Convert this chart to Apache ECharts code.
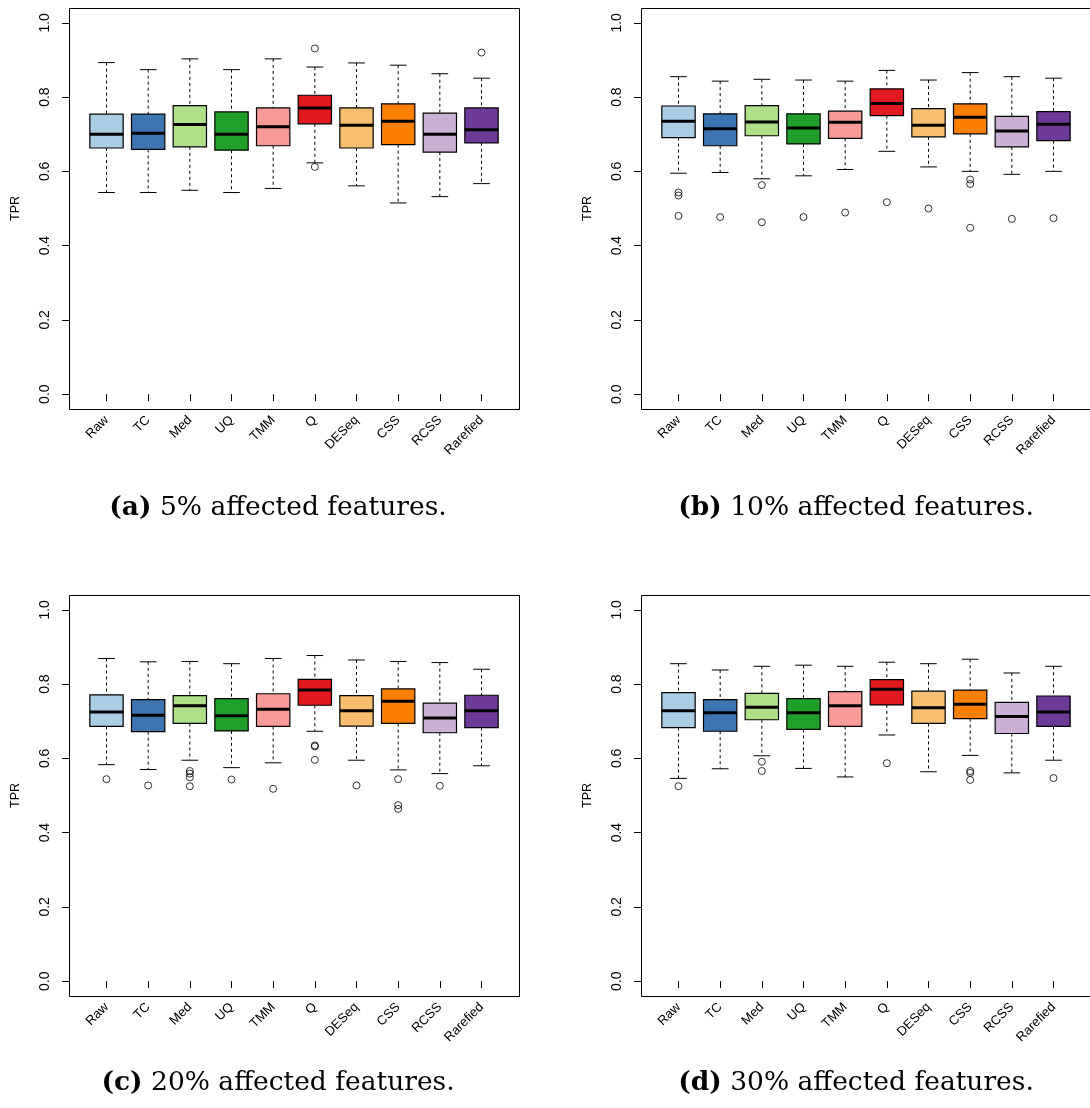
<!DOCTYPE html>
<html>
<head>
<meta charset="utf-8">
<script src="https://cdn.jsdelivr.net/npm/echarts@6/dist/echarts.min.js"></script>
<style>
html,body{margin:0;padding:0;background:#fff;}
#chart{width:1090px;height:1108px;}
</style>
</head>
<body>
<div id="chart"></div>
<script>
// ---------------- data ----------------
const categories = ['Raw','TC','Med','UQ','TMM','Q','DESeq','CSS','RCSS','Rarefied'];
const colors = ['#A9CDE3','#3D75B3','#AEE088','#209F2B','#F89A98','#E01A1F','#F8BF70','#FB8000','#CAB0D5','#6E3A98'];
const yTicks = [0, 0.2, 0.4, 0.6, 0.8, 1.0];

// each row: [lower whisker, Q1, median, Q3, upper whisker]
const boxes5 = [
  [0.543,0.663,0.700,0.754,0.893],
  [0.543,0.659,0.703,0.754,0.874],
  [0.549,0.666,0.726,0.777,0.903],
  [0.543,0.657,0.700,0.760,0.874],
  [0.554,0.669,0.720,0.771,0.903],
  [0.623,0.728,0.771,0.805,0.881],
  [0.561,0.663,0.724,0.771,0.892],
  [0.515,0.672,0.735,0.782,0.886],
  [0.532,0.652,0.700,0.757,0.863],
  [0.567,0.677,0.712,0.771,0.851]
];
const outliers5 = [[5,0.931],[5,0.612],[9,0.920]];

const boxes10 = [
  [0.595,0.691,0.735,0.776,0.855],
  [0.597,0.669,0.715,0.755,0.843],
  [0.580,0.696,0.733,0.777,0.848],
  [0.588,0.674,0.717,0.755,0.846],
  [0.605,0.689,0.732,0.762,0.843],
  [0.654,0.750,0.783,0.822,0.872],
  [0.612,0.693,0.724,0.769,0.846],
  [0.600,0.701,0.746,0.782,0.866],
  [0.592,0.666,0.709,0.748,0.855],
  [0.600,0.683,0.727,0.761,0.851]
];
const outliers10 = [[0,0.543],[0,0.535],[0,0.480],[1,0.477],[2,0.563],[2,0.463],[3,0.477],[4,0.489],
  [5,0.517],[6,0.500],[7,0.578],[7,0.566],[7,0.448],[8,0.472],[9,0.474]];

const boxes20 = [
  [0.583,0.686,0.725,0.771,0.869],
  [0.570,0.672,0.716,0.758,0.860],
  [0.595,0.694,0.742,0.769,0.861],
  [0.575,0.674,0.715,0.761,0.855],
  [0.588,0.686,0.732,0.774,0.869],
  [0.673,0.743,0.784,0.813,0.877],
  [0.595,0.687,0.728,0.769,0.865],
  [0.569,0.694,0.754,0.787,0.861],
  [0.559,0.669,0.709,0.749,0.858],
  [0.580,0.683,0.728,0.770,0.840]
];
const outliers20 = [[0,0.544],[1,0.527],[2,0.566],[2,0.559],[2,0.549],[2,0.525],[3,0.543],[4,0.518],
  [5,0.635],[5,0.632],[5,0.596],[6,0.527],[7,0.544],[7,0.474],[7,0.464],[8,0.526]];

const boxes30 = [
  [0.546,0.683,0.728,0.777,0.855],
  [0.572,0.673,0.723,0.758,0.838],
  [0.607,0.704,0.738,0.775,0.848],
  [0.573,0.678,0.723,0.761,0.851],
  [0.550,0.686,0.742,0.780,0.848],
  [0.663,0.744,0.786,0.812,0.859],
  [0.564,0.694,0.736,0.781,0.855],
  [0.608,0.707,0.746,0.784,0.867],
  [0.561,0.667,0.713,0.751,0.830],
  [0.595,0.686,0.725,0.768,0.848]
];
const outliers30 = [[0,0.525],[2,0.591],[2,0.566],[5,0.587],[7,0.566],[7,0.561],[7,0.542],[9,0.547]];

const captionLabels = ['(a)','(b)','(c)','(d)'];
const captionTexts = ['5% affected features.','10% affected features.','20% affected features.','30% affected features.'];

// ---------------- layout ----------------
const panels = [
  {boxes: boxes5,  outs: outliers5,  fx: 69,  fy: 8},
  {boxes: boxes10, outs: outliers10, fx: 641, fy: 8},
  {boxes: boxes20, outs: outliers20, fx: 69,  fy: 595},
  {boxes: boxes30, outs: outliers30, fx: 641, fy: 595}
];
const frameW = 450, frameH = 401;
const unitX = frameW / 10.8;          // R: xlim 0.5..10.5 extended 4%
const unitY = frameH / 1.08;          // R: ylim 0..1 extended 4%
const xPad = 0.4 * unitX, yPad = 0.04 * unitY;
const captionPos = [[278, 508], [856, 508], [278, 1083], [856, 1083]];

const sansFont = 'Liberation Sans';
const serifFont = 'DejaVu Serif';

function renderBox(params, api) {
  const i = api.value(0);
  const lo = api.value(1), q1 = api.value(2), md = api.value(3), q3 = api.value(4), hi = api.value(5);
  const bw = api.size([1, 0])[0] * 0.8;
  const x = api.coord([i, md])[0];
  const y = v => api.coord([i, v])[1];
  const dash = {stroke: '#000', lineWidth: 1, lineDash: [3, 3]};
  const solid = {stroke: '#000', lineWidth: 1};
  return {
    type: 'group',
    children: [
      {type: 'line', shape: {x1: x, y1: y(hi), x2: x, y2: y(q3)}, style: dash},
      {type: 'line', shape: {x1: x, y1: y(q1), x2: x, y2: y(lo)}, style: dash},
      {type: 'line', shape: {x1: x - bw / 4, y1: y(hi), x2: x + bw / 4, y2: y(hi)}, style: solid},
      {type: 'line', shape: {x1: x - bw / 4, y1: y(lo), x2: x + bw / 4, y2: y(lo)}, style: solid},
      {type: 'rect', shape: {x: x - bw / 2, y: y(q3), width: bw, height: y(q1) - y(q3)},
        style: {fill: colors[params.dataIndex], stroke: '#000', lineWidth: 1.2}},
      {type: 'line', shape: {x1: x - bw / 2, y1: y(md), x2: x + bw / 2, y2: y(md)},
        style: {stroke: '#000', lineWidth: 3}}
    ]
  };
}

const grid = [], xAxis = [], yAxis = [], series = [], graphic = [];
panels.forEach((p, k) => {
  grid.push({
    left: p.fx + xPad, top: p.fy + yPad,
    width: frameW - 2 * xPad, height: frameH - 2 * yPad
  });
  xAxis.push({
    type: 'category', gridIndex: k, data: categories,
    offset: yPad,
    axisLine: {show: false},
    axisTick: {show: true, alignWithLabel: true, length: 7, lineStyle: {color: '#000', width: 1}},
    axisLabel: {interval: 0, rotate: 45, margin: 9, color: '#000', fontSize: 13, fontFamily: sansFont},
    splitLine: {show: false}
  });
  yAxis.push({
    type: 'value', gridIndex: k, min: 0, max: 1, interval: 0.2,
    offset: xPad,
    axisLine: {show: true, lineStyle: {color: '#000', width: 1}},
    axisTick: {show: true, length: 7, lineStyle: {color: '#000', width: 1}},
    axisLabel: {rotate: 90, margin: 17, color: '#000', fontSize: 14, fontFamily: sansFont,
      formatter: v => v.toFixed(1)},
    splitLine: {show: false},
    name: 'TPR', nameLocation: 'middle', nameGap: 47,
    nameTextStyle: {color: '#000', fontSize: 12.5, fontFamily: sansFont}
  });
  series.push({
    type: 'custom', xAxisIndex: k, yAxisIndex: k,
    renderItem: renderBox,
    encode: {x: 0, y: [1, 2, 3, 4, 5]},
    data: p.boxes.map((b, i) => [i].concat(b)),
    silent: true, z: 2
  });
  series.push({
    type: 'scatter', xAxisIndex: k, yAxisIndex: k,
    data: p.outs,
    symbol: 'circle', symbolSize: 7,
    itemStyle: {color: 'rgba(0,0,0,0)', borderColor: '#000', borderWidth: 1},
    silent: true, z: 3
  });
  graphic.push({
    type: 'rect', silent: true, z: 10,
    shape: {x: p.fx + 0.5, y: p.fy + 0.5, width: frameW, height: frameH},
    style: {fill: 'none', stroke: '#000', lineWidth: 1}
  });
  graphic.push({
    type: 'text', silent: true,
    x: captionPos[k][0], y: captionPos[k][1],
    style: {
      text: '{b|' + captionLabels[k] + '} ' + captionTexts[k],
      align: 'center', verticalAlign: 'middle',
      fontFamily: serifFont, fontSize: 26.5, fill: '#000',
      rich: {b: {fontFamily: serifFont, fontSize: 26.5, fontWeight: 'bold', fill: '#000'}}
    }
  });
});

const chart = echarts.init(document.getElementById('chart'), null, {renderer: 'canvas'});
chart.setOption({
  animation: false,
  backgroundColor: '#fff',
  grid, xAxis, yAxis, series, graphic
});
</script>
</body>
</html>
